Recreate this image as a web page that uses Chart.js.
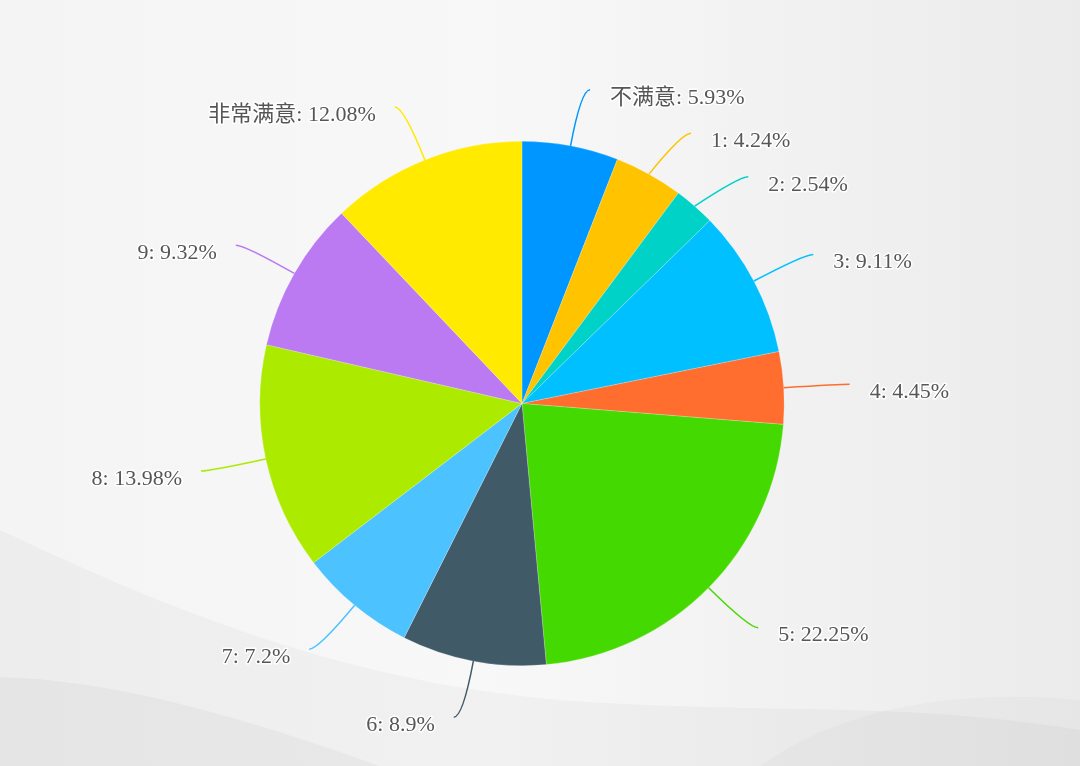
<!DOCTYPE html>
<html><head><meta charset="utf-8">
<script src="https://cdn.jsdelivr.net/npm/chart.js@4.4.0/dist/chart.umd.min.js"></script>
<style>html,body{margin:0;padding:0;background:#f4f4f4;overflow:hidden}#wrap{width:1080px;height:766px;position:relative}</style>
</head><body><div id="wrap"><canvas id="c" width="1080" height="766"></canvas></div>
<script>
const categories = ['不满意','1','2','3','4','5','6','7','8','9','非常满意'];
const percentages = [5.93, 4.24, 2.54, 9.11, 4.45, 22.25, 8.9, 7.2, 13.98, 9.32, 12.08];
const sliceColors = ['#0096ff','#ffc300','#00d2c8','#00c0ff','#ff6e2e','#44d900','#415a68','#4cc2ff','#acea00','#bb79f2','#ffea00'];

const bgPlugin = {
  id: 'bg',
  beforeDraw(chart) {
    const ctx = chart.ctx, W = chart.width, H = chart.height;
    ctx.save();
    const g = ctx.createLinearGradient(0, 0, W, 0);
    g.addColorStop(0, '#f4f4f4');
    g.addColorStop(0.45, '#f8f8f8');
    g.addColorStop(1, '#ebebeb');
    ctx.fillStyle = g;
    ctx.fillRect(0, 0, W, H);
    ctx.fillStyle = 'rgba(0,0,0,0.028)';
    ctx.beginPath();
    ctx.moveTo(0, 530);
    ctx.bezierCurveTo(150, 600, 330, 680, 560, 700);
    ctx.bezierCurveTo(760, 715, 900, 700, 1080, 730);
    ctx.lineTo(1080, H); ctx.lineTo(0, H); ctx.closePath(); ctx.fill();
    ctx.fillStyle = 'rgba(0,0,0,0.03)';
    ctx.beginPath();
    ctx.moveTo(0, 677);
    ctx.bezierCurveTo(120, 680, 250, 720, 380, H);
    ctx.lineTo(0, H); ctx.closePath(); ctx.fill();
    ctx.fillStyle = 'rgba(0,0,0,0.02)';
    ctx.beginPath();
    ctx.moveTo(760, H);
    ctx.bezierCurveTo(850, 700, 980, 690, 1080, 700);
    ctx.lineTo(1080, H); ctx.closePath(); ctx.fill();
    ctx.restore();
  }
};

const labelPlugin = {
  id: 'pieLabels',
  afterDatasetsDraw(chart) {
    const ctx = chart.ctx;
    const meta = chart.getDatasetMeta(0);
    const items = [];
    meta.data.forEach((arc, i) => {
      const p = arc.getProps(['x','y','startAngle','endAngle','outerRadius'], true);
      const mid = (p.startAngle + p.endAngle) / 2;
      const cos = Math.cos(mid), sin = Math.sin(mid);
      const r = p.outerRadius;
      const side = cos >= 0 ? 1 : -1;
      const p0 = {x: p.x + cos * r, y: p.y + sin * r};
      const c = {x: p.x + cos * (r + 57), y: p.y + sin * (r + 57)};
      items.push({i, side, p0, c, cx: p.x, cy: p.y, ty: c.y + 8, shifted: false});
    });
    [1, -1].forEach(side => {
      const arr = items.filter(o => o.side === side).sort((a, b) => a.ty - b.ty);
      for (let k = 1; k < arr.length; k++) {
        if (arr[k].ty < arr[k-1].ty + 43.5) { arr[k].ty = arr[k-1].ty + 43.5; arr[k].shifted = true; }
      }
    });
    ctx.save();
    items.forEach(o => {
      let cx = o.c.x, cy = o.c.y;
      if (o.shifted) {
        cy = o.ty - 8;
        const dy = cy - o.cy;
        const R = 314;
        cx = o.cx + o.side * Math.sqrt(Math.max(R * R - dy * dy, 0));
      }
      const p2 = {x: cx + o.side * 9, y: cy};
      ctx.strokeStyle = sliceColors[o.i];
      ctx.lineWidth = 1.5;
      ctx.beginPath();
      ctx.moveTo(o.p0.x, o.p0.y);
      ctx.quadraticCurveTo(cx, cy, p2.x, p2.y);
      ctx.stroke();
      const text = categories[o.i] + ': ' + percentages[o.i] + '%';
      ctx.font = '22px "Liberation Serif", "Noto Sans CJK SC", serif';
      ctx.textBaseline = 'middle';
      ctx.textAlign = o.side > 0 ? 'left' : 'right';
      const tx = p2.x + o.side * (o.side > 0 ? 20 : 19);
      ctx.lineJoin = 'round';
      ctx.strokeStyle = 'rgba(255,255,255,0.95)';
      ctx.lineWidth = 3;
      ctx.strokeText(text, tx, o.ty);
      ctx.fillStyle = '#565656';
      ctx.fillText(text, tx, o.ty);
    });
    ctx.restore();
  }
};

new Chart(document.getElementById('c'), {
  type: 'pie',
  data: {
    labels: categories,
    datasets: [{
      data: percentages,
      backgroundColor: sliceColors,
      borderColor: 'rgba(255,255,255,0.35)',
      borderWidth: 0.6
    }]
  },
  options: {
    responsive: false,
    animation: false,
    layout: {padding: {top: 141, bottom: 100, left: 0, right: 36}},
    plugins: {legend: {display: false}, tooltip: {enabled: false}}
  },
  plugins: [bgPlugin, labelPlugin]
});
</script>
</body></html>
